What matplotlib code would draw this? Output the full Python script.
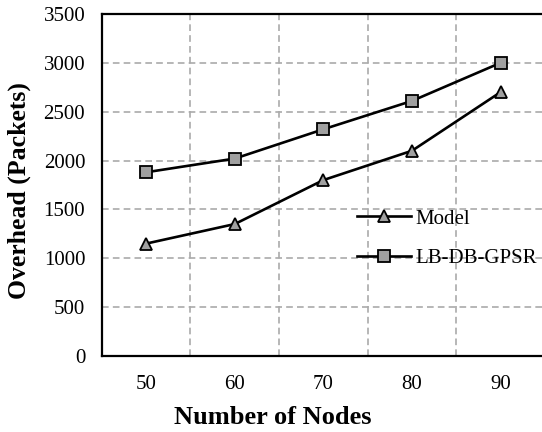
import matplotlib
matplotlib.use("Agg")
import matplotlib.pyplot as plt
from matplotlib.ticker import FixedLocator

nodes = [50, 60, 70, 80, 90]
model = [1150, 1350, 1800, 2100, 2700]
lbdb = [1880, 2020, 2320, 2610, 3000]
yticks = [0, 500, 1000, 1500, 2000, 2500, 3000, 3500]

plt.rcParams['font.family'] = ['Liberation Serif', 'DejaVu Serif']

fig = plt.figure(figsize=(5.42, 4.32), dpi=100)
ax = fig.add_axes([0.188, 0.176, 0.8173, 0.7917])

ax.plot(nodes, model, color='black', lw=1.9, marker='^', ms=9,
        mfc='#a0a0a0', mec='black', mew=1.3, label='Model', zorder=3)
ax.plot(nodes, lbdb, color='black', lw=1.9, marker='s', ms=9,
        mfc='#a0a0a0', mec='black', mew=1.3, label='LB-DB-GPSR', zorder=3)

ax.set_xlim(45, 95)
ax.set_ylim(0, 3500)
ax.set_xticks(nodes)
ax.set_yticks(yticks)
ax.xaxis.set_minor_locator(FixedLocator([55, 65, 75, 85]))
ax.tick_params(axis='both', which='both', length=0, labelsize=15)
ax.tick_params(axis='x', pad=14)
ax.tick_params(axis='y', pad=12)

ax.grid(True, axis='y', which='major', color='#aaaaaa', ls=(0, (4, 2.5)), lw=1.2)
ax.grid(True, axis='x', which='minor', color='#aaaaaa', ls=(0, (4, 2.5)), lw=1.2)
ax.set_axisbelow(True)

for s in ['left', 'bottom', 'top']:
    ax.spines[s].set_linewidth(1.6)
    ax.spines[s].set_color('black')
ax.spines['right'].set_visible(False)

ax.set_xlabel('Number of Nodes', fontsize=19, fontweight='bold')
ax.xaxis.set_label_coords(0.386, -0.181)
ax.xaxis.label.set_va('center')
ax.set_ylabel('Overhead (Packets)', fontsize=18.5, fontweight='bold')
ax.yaxis.set_label_coords(-0.187, 0.485)
ax.yaxis.label.set_va('center')

fig.legend(loc='upper left', bbox_to_anchor=(0.658, 0.516), frameon=False,
           fontsize=15, handlelength=2.6, handletextpad=0.24,
           labelspacing=0.97, borderpad=0, borderaxespad=0)

fig.savefig('out.png', dpi=100)
